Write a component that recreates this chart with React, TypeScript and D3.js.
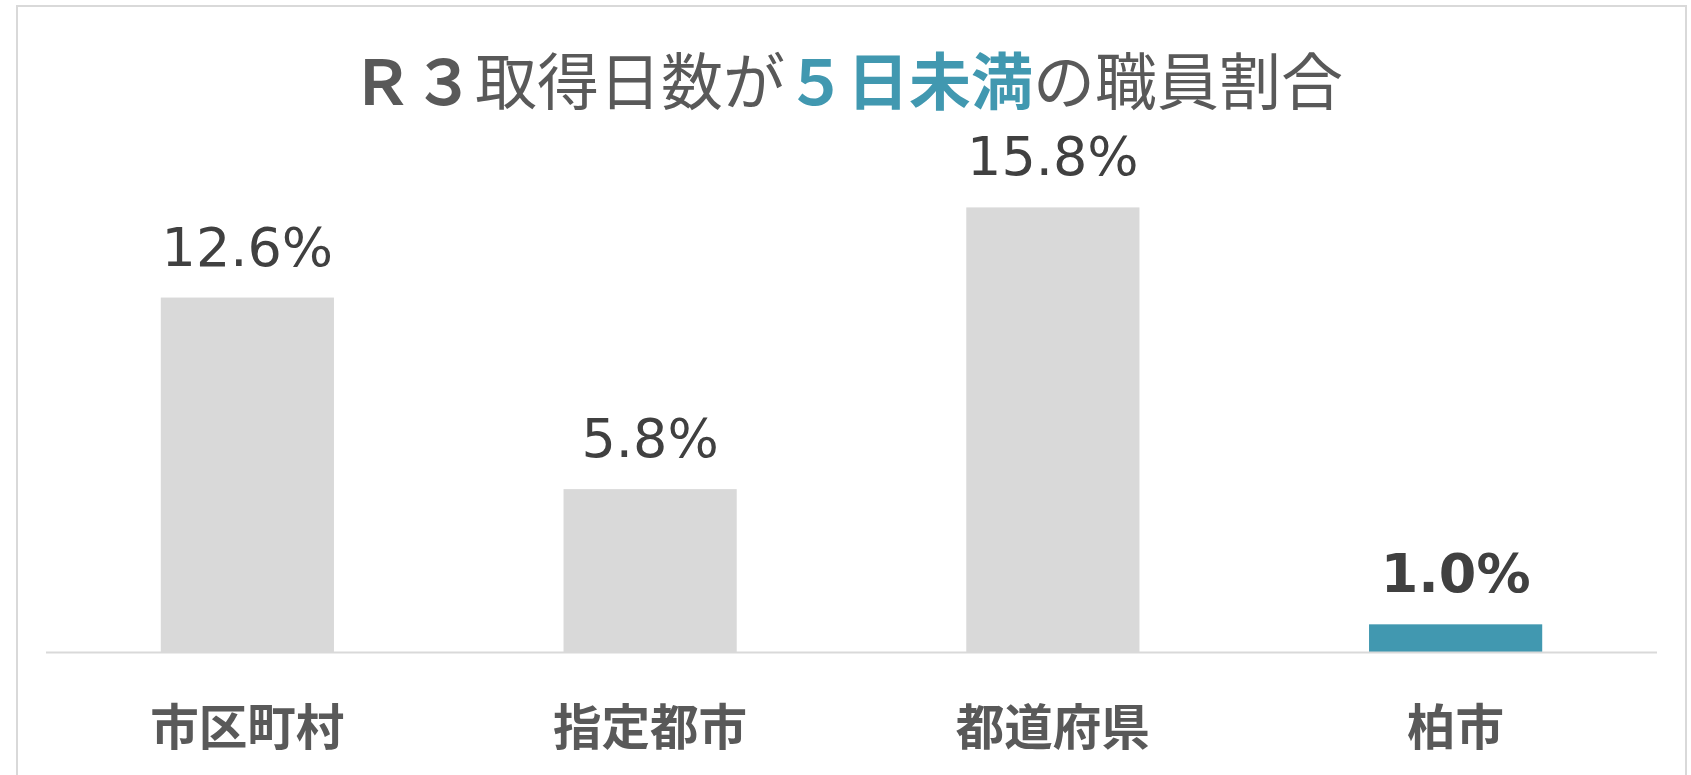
import React from "react";
import * as d3 from "d3";

const categories = ["市区町村", "指定都市", "都道府県", "柏市"];
const values = [12.6, 5.8, 15.8, 1.0];
const highlight = [false, false, false, true];
const valueLabels = ["12.6%", "5.8%", "15.8%", "1.0%"];

const W = 1691;
const H = 775;

export default function App() {
  const x = d3.scaleBand<string>().domain(categories).range([46, 1657]).padding(0);
  const y = d3.scaleLinear().domain([0, 20]).range([652.5, 652.5 - 20 * 28.17]);
  const barW = x.bandwidth() * 0.43;
  const cjk = "'Noto Sans CJK JP', 'Noto Sans', sans-serif";
  const gray = "#595959";
  const teal = "#4198b0";

  return (
    <svg width={W} height={H} style={{ position: "absolute", left: 0, top: 0, display: "block", background: "#fff" }}>
      <rect x={17} y={6} width={1669} height={800} fill="#fff" stroke="#d9d9d9" strokeWidth={2} />
      <text x={847} y={105} textAnchor="middle" fontFamily={cjk} fontSize={62} fill={gray}>
        <tspan fontWeight={700}>Ｒ３</tspan>
        <tspan fontWeight={400}>取得日数が</tspan>
        <tspan fontWeight={700} fill={teal}>５日未満</tspan>
        <tspan fontWeight={400}>の職員割合</tspan>
      </text>
      {categories.map((c, i) => {
        const cx = (x(c) as number) + x.bandwidth() / 2;
        return (
          <g key={c}>
            <rect
              x={cx - barW / 2}
              y={y(values[i])}
              width={barW}
              height={y(0) - y(values[i])}
              fill={highlight[i] ? teal : "#d9d9d9"}
            />
            <text
              x={cx}
              y={y(values[i]) - 32}
              textAnchor="middle"
              fontFamily="'DejaVu Sans', Verdana, sans-serif"
              fontSize={54}
              fontWeight={highlight[i] ? 700 : 400}
              fill="#404040"
            >
              {valueLabels[i]}
            </text>
            <text
              x={cx}
              y={745}
              textAnchor="middle"
              fontFamily={cjk}
              fontSize={48.5}
              fontWeight={700}
              fill={gray}
            >
              {c}
            </text>
          </g>
        );
      })}
      <line x1={46} x2={1657} y1={y(0)} y2={y(0)} stroke="#d9d9d9" strokeWidth={2} />
    </svg>
  );
}
